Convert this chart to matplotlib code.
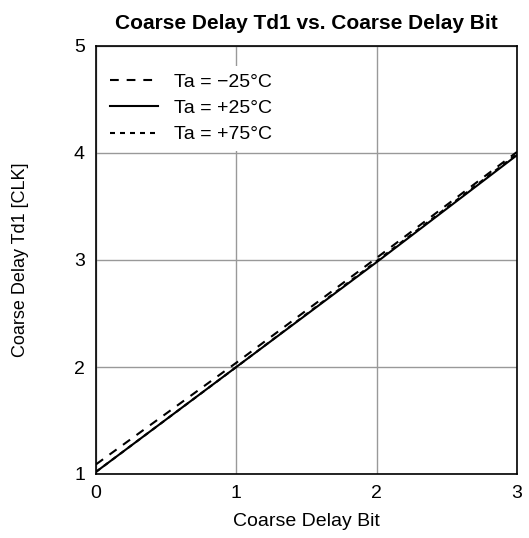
import matplotlib.pyplot as plt

plt.rcParams['font.family'] = ['Liberation Sans', 'DejaVu Sans']

bits = [0, 1, 2, 3]
td_m25 = [1.09, 2.04, 3.02, 4.01]
td_p25 = [1.02, 2.00, 2.98, 3.98]
td_p75 = [1.02, 2.00, 2.99, 3.99]

fig = plt.figure(figsize=(5.29, 5.38), dpi=100)
ax = fig.add_axes([96 / 529, 64 / 538, 421 / 529, 428 / 538])

ax.plot(bits, td_m25, color='black', lw=1.5, ls=(0, (4.2, 3.8)), label='Ta = \u221225\u00b0C')
ax.plot(bits, td_p25, color='black', lw=1.5, ls='-', label='Ta = +25\u00b0C')
ax.plot(bits, td_p75, color='black', lw=1.5, ls=(0, (2.4, 2.4)), label='Ta = +75\u00b0C')

ax.set_xlim(0, 3)
ax.set_ylim(1, 5)
ax.set_xticks(bits)
ax.set_yticks([1, 2, 3, 4, 5])
ax.grid(True, color='#999999', lw=1)
ax.tick_params(length=0, labelsize=14, pad=8)
for s in ax.spines.values():
    s.set_linewidth(1.2)

ax.set_title('Coarse Delay Td1 vs. Coarse Delay Bit', fontsize=15, fontweight='bold', pad=12)
ax.set_xlabel('Coarse Delay Bit', fontsize=14, labelpad=8)
ax.set_ylabel('Coarse Delay Td1 [CLK]', fontsize=13, labelpad=32)

leg = ax.legend(loc='upper left', bbox_to_anchor=(0.014, 0.954), frameon=True, fontsize=14,
                handlelength=2.5, handletextpad=0.8, borderaxespad=0, labelspacing=0.44)
leg.get_frame().set_facecolor('white')
leg.get_frame().set_edgecolor('none')
leg.get_frame().set_alpha(1)

fig.savefig('out.png', dpi=100)
